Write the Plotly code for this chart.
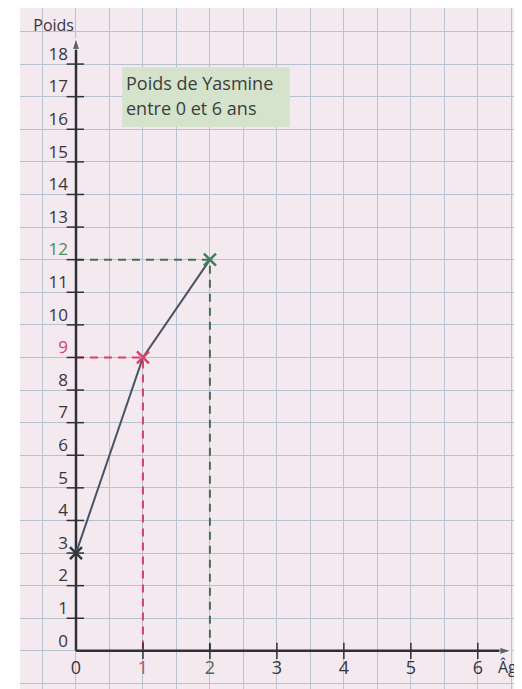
import plotly.graph_objects as go

# data
ages = [0, 1, 2]
poids = [3, 9, 12]
point_colors = ["#33363e", "#d8416a", "#3f7d5c"]

y_ticks = list(range(0, 19))
y_tick_labels = [str(v) for v in y_ticks]
y_tick_colors = ["#35363d"] * 19
y_tick_colors[9] = "#d8416a"
y_tick_colors[12] = "#4f8a5e"

x_ticks = list(range(0, 7))
x_tick_labels = [str(v) for v in x_ticks]
x_tick_colors = ["#35363d"] * 7
x_tick_colors[1] = "#d8416a"
x_tick_colors[2] = "#4a6a58"

AXIS = "#2e3038"
GRID = "#b7c2cf"
RED = "#d8416a"
GREEN = "#4a6e5a"
FONT = "Open Sans"

fig = go.Figure()

# guide lines (dashed)
fig.add_trace(go.Scatter(
    x=[0, ages[1], ages[1]], y=[poids[1], poids[1], 0],
    mode="lines", line=dict(color=RED, width=2, dash="8px,6px"),
    hoverinfo="skip",
))
fig.add_trace(go.Scatter(
    x=[0, ages[2], ages[2]], y=[poids[2], poids[2], 0],
    mode="lines", line=dict(color=GREEN, width=2, dash="8px,6px"),
    hoverinfo="skip",
))

# axes with arrows
fig.add_trace(go.Scatter(
    x=[0, 0], y=[0, 18.8], mode="lines+markers",
    line=dict(color=AXIS, width=2.5),
    marker=dict(symbol="arrow", angleref="previous", size=[0, 12], color=AXIS),
    hoverinfo="skip",
))
fig.add_trace(go.Scatter(
    x=[0, 6.5], y=[0, 0], mode="lines+markers",
    line=dict(color=AXIS, width=2.5),
    marker=dict(symbol="arrow", angleref="previous", size=[0, 12], color=AXIS),
    hoverinfo="skip",
))

# tick marks
for v in y_ticks[1:]:
    fig.add_trace(go.Scatter(
        x=[-0.14, 0.12], y=[v, v], mode="lines",
        line=dict(color=AXIS, width=1.5), hoverinfo="skip",
    ))
for v in x_ticks[1:]:
    fig.add_trace(go.Scatter(
        x=[v, v], y=[-0.25, 0.25], mode="lines",
        line=dict(color=AXIS, width=1.5), hoverinfo="skip",
    ))

# tick labels
fig.add_trace(go.Scatter(
    x=[-0.12] * len(y_ticks), y=y_ticks, mode="text",
    text=y_tick_labels, textposition="top left",
    textfont=dict(family=FONT, size=17, color=y_tick_colors),
    hoverinfo="skip",
))
fig.add_trace(go.Scatter(
    x=x_ticks, y=[-0.3] * len(x_ticks), mode="text",
    text=x_tick_labels, textposition="bottom center",
    textfont=dict(family=FONT, size=18, color=x_tick_colors),
    hoverinfo="skip",
))
fig.add_trace(go.Scatter(
    x=[-0.03, 6.3], y=[19.15, -0.3], mode="text",
    text=["Poids", "Âge"], textposition=["middle left", "bottom right"],
    textfont=dict(family=FONT, size=16, color="#35363d"),
    hoverinfo="skip",
))

# the weight curve
fig.add_trace(go.Scatter(
    x=ages, y=poids, mode="lines+markers",
    line=dict(color="#4b5363", width=2),
    marker=dict(symbol="x-thin", size=12, line=dict(width=2.5, color=point_colors)),
    hoverinfo="skip",
))

# title box
fig.add_shape(type="rect", x0=0.69, x1=3.19, y0=16.07, y1=17.9,
              fillcolor="#d5e2cc", line=dict(width=0), layer="above")
fig.add_annotation(x=0.72, y=17.42, text="Poids de Yasmine", showarrow=False,
                   xanchor="left", font=dict(family=FONT, size=18, color="#3a403b"))
fig.add_annotation(x=0.72, y=16.66, text="entre 0 et 6 ans", showarrow=False,
                   xanchor="left", font=dict(family=FONT, size=18, color="#3a403b"))

fig.update_xaxes(range=[-0.836, 6.66], dtick=0.5, tick0=0, showgrid=True,
                 gridcolor=GRID, gridwidth=1, showticklabels=False,
                 zeroline=False, showline=False, fixedrange=True)
fig.update_yaxes(range=[-1.17, 19.72], dtick=1, tick0=0, showgrid=True,
                 gridcolor=GRID, gridwidth=1, showticklabels=False,
                 zeroline=False, showline=False, fixedrange=True)

# the page body has an 8px margin, so the figure is a bit smaller
fig.update_layout(
    width=514, height=681,
    margin=dict(l=12, r=0, t=0, b=0),
    paper_bgcolor="white", plot_bgcolor="#f3e9ef",
    showlegend=False,
)

fig.write_html("out.html")
